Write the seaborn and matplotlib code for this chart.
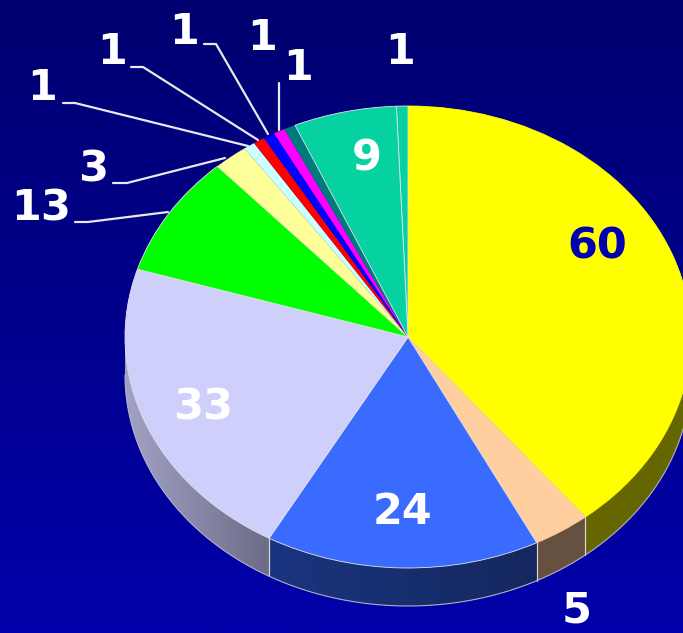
import numpy as np
import matplotlib
matplotlib.use('Agg')
import matplotlib.pyplot as plt
from matplotlib.patches import Polygon
import seaborn as sns

# ── Data ───────────────────────────────────────────────────
values = [60, 5, 24, 33, 13, 3, 1, 1, 1, 1, 1, 9, 1]
slice_colors = ['#FFFF00', '#FFCF9F', '#3A6BFF', '#CFCFFC', '#00FF00', '#FFFF99',
                '#CCFFFF', '#FF0000', '#0000FF', '#FF00FF', '#007B7B', '#05D2A0', '#05D2A0']
rim_left = ['#666600', '#665040', '#1A3580', '#A2A2C6', '#006600', '#666640',
            '#506666', '#660000', '#000066', '#660066', '#003030', '#025440', '#025440']
rim_right = ['#666600', '#665040', '#14285E', '#6C6C88', '#006600', '#666640',
             '#506666', '#660000', '#000066', '#660066', '#003030', '#025440', '#025440']
label_text = ['60', '5', '24', '33', '13', '3', '1', '1', '1', '1', '1', '9', '1']
label_x = [597, 577, 403, 203, 41, 93, 42, 112, 184, 262, 298, 367, 400]
label_y = [242, 606, 508, 403, 204, 165, 84, 47, 27, 34, 64, 154, 47]
label_color = ['#0000B0'] + ['white'] * 12

leaders = [[(75, 222), (88, 222), (168, 212)],
           [(113, 183), (127, 183), (225, 158)],
           [(63, 103), (75, 103), (248, 146)],
           [(131, 67), (143, 67), (258, 140)],
           [(204, 44), (216, 44), (268, 134)],
           [(279, 83), (279, 130)]]

# ── Layout (pixels of the picture) ─────────────────────────
W, H = 683, 633
cx, cy, rx, ry, depth = 408, 337, 283, 231, 38

sns.set_theme(style='white')
plt.rcParams['font.family'] = ['DejaVu Sans']

fig = plt.figure(figsize=(W / 100, H / 100), dpi=100)
ax = fig.add_axes([0, 0, 1, 1])

# ── Rim: each visible slice gets a left-to-right gradient clipped to its band ──
rim_h = depth / ry
edges = 360 * np.cumsum([0] + values) / sum(values)
for i in range(len(values)):
    a0, a1 = max(edges[i], 90), min(edges[i + 1], 270)
    if a0 >= a1:
        continue
    t = np.radians(np.linspace(a0, a1, 120))
    band = np.vstack([np.column_stack([np.sin(t), np.cos(t)]),
                      np.column_stack([np.sin(t[::-1]), np.cos(t[::-1]) - rim_h])])
    patch = Polygon(band, closed=True, facecolor=rim_right[i], edgecolor='none', zorder=2)
    ax.add_patch(patch)
    shades = np.array(sns.blend_palette([rim_left[i], rim_right[i]], 128))[None, :, :]
    im = ax.imshow(shades, extent=[band[:, 0].min(), band[:, 0].max(),
                                   band[:, 1].min(), band[:, 1].max()],
                   aspect='auto', zorder=2.1, interpolation='bilinear')
    im.set_clip_path(patch)
    for a in (a0, a1):
        if 90 < a < 270:
            s, c = np.sin(np.radians(a)), np.cos(np.radians(a))
            ax.plot([s, s], [c, c - rim_h], color='#D8D8D8', lw=0.8, zorder=3)

t = np.radians(np.linspace(90, 270, 300))
ax.plot(np.sin(t), np.cos(t) - rim_h, color='#B0B0C8', lw=0.8, zorder=3)

# ── Top of the pie ─────────────────────────────────────────
wedges, _ = ax.pie(values, colors=sns.color_palette(slice_colors), startangle=90,
                   counterclock=False, radius=1,
                   wedgeprops=dict(edgecolor='#E4E4EC', linewidth=0.6, zorder=4))
# the narrow slices carry no outline, it would swallow them
for w in wedges[5:11]:
    w.set_edgecolor(w.get_facecolor())
    w.set_linewidth(0.1)
wedges[11].set_zorder(4.5)
wedges[0].set_edgecolor('#FFFF00')
wedges[1].set_edgecolor('#FFCF9F')

ax.set_aspect('auto')
ax.set_axis_off()

# ── Background gradient ────────────────────────────────────
grad = sns.blend_palette(['#000070', '#0000AA'], 256)
ax.imshow(np.array(grad)[:, None, :], extent=[0, 1, 0, 1], transform=ax.transAxes,
          aspect='auto', zorder=0)
ax.set_xlim(-cx / rx, (W - cx) / rx)
ax.set_ylim(-(H - cy) / ry, cy / ry)

# ── Leaders and labels, placed in picture pixels ───────────
def px(x, y):
    return x / W, 1 - y / H

for pts in leaders:
    xy = np.array([px(*p) for p in pts])
    ax.plot(xy[:, 0], xy[:, 1], color='#E8E8F0', lw=1.6, transform=ax.transAxes,
            solid_joinstyle='round', zorder=5)

for s, x, y, c in zip(label_text, label_x, label_y, label_color):
    fx, fy = px(x, y)
    ax.text(fx, fy, s, color=c, fontsize=31, fontweight='bold', ha='center',
            va='center_baseline', transform=ax.transAxes, zorder=6)

plt.savefig('out.png', dpi=100)
plt.close()
